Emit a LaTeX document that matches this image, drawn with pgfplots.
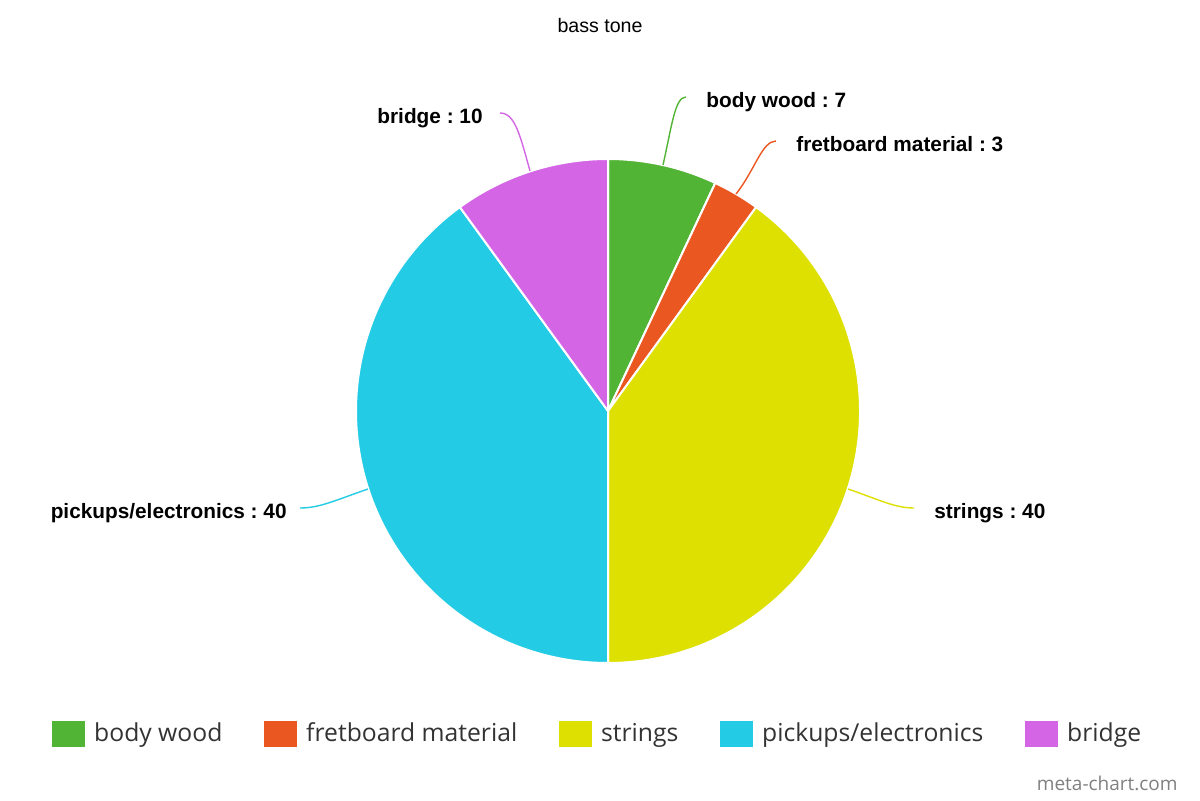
\documentclass[border=0pt]{standalone}
\usepackage{fontspec}
\setmainfont{Liberation Sans}
\newfontfamily\legendfont{Open Sans}
\usepackage{pgfplots}
\usepackage{pgfplotstable}
\pgfplotsset{compat=1.18}
\frenchspacing

\definecolor{c0}{HTML}{52B435}
\definecolor{c1}{HTML}{EB5720}
\definecolor{c2}{HTML}{DDE000}
\definecolor{c3}{HTML}{24CBE5}
\definecolor{c4}{HTML}{D466E6}

\pgfplotstableread[col sep=comma]{
name,value
body wood,7
fretboard material,3
strings,40
pickups/electronics,40
bridge,10
}\piedata

\begin{document}
\begin{tikzpicture}
% slice angles, clockwise from 12 o'clock
\pgfplotstablegetrowsof{\piedata}
\pgfmathtruncatemacro\nrows{\pgfplotsretval-1}
\gdef\pietot{0}
\foreach \i in {0,...,\nrows}{
  \pgfplotstablegetelem{\i}{value}\of\piedata
  \pgfmathsetmacro\pietmp{\pietot+\pgfplotsretval}
  \xdef\pietot{\pietmp}
}
\pgfmathsetmacro\piescale{360/\pietot}
\gdef\piecum{0}
\foreach \i in {0,...,\nrows}{
  \pgfplotstablegetelem{\i}{value}\of\piedata
  \pgfmathsetmacro\piea{90-\piescale*\piecum}
  \pgfmathsetmacro\pietmp{\piecum+\pgfplotsretval}
  \pgfmathsetmacro\pieb{90-\piescale*\pietmp}
  \expandafter\xdef\csname sa\i\endcsname{\piea}
  \expandafter\xdef\csname sb\i\endcsname{\pieb}
  \xdef\piecum{\pietmp}
}
\begin{axis}[
    hide axis,
    scale only axis,
    width=600pt, height=400pt,
    xmin=0, xmax=1200, ymin=0, ymax=800,
    clip=false,
    legend columns=5,
    legend style={at={(axis cs:52,66)}, anchor=west, draw=none, fill=none,
        font=\legendfont\fontsize{12.35}{15}\selectfont, text=black!80,
        nodes={inner xsep=0pt, inner ysep=1pt}, inner sep=0pt,
        column sep=4.5pt,
        /tikz/every even column/.append style={column sep=21pt}},
    legend image code/.code={\fill[#1] (0pt,-6.25pt) rectangle (16pt,6.25pt);}
]
\path (axis cs:0,0) rectangle (axis cs:1200,800);

\pgfplotsinvokeforeach{0,...,\nrows}{
  \fill[c#1, draw=white, line width=1pt, line join=round]
    (axis cs:608,389) -- ++(\csname sa#1\endcsname:126pt)
    arc[start angle=\csname sa#1\endcsname, end angle=\csname sb#1\endcsname, radius=126pt] -- cycle;
}

\addlegendimage{c0}
\addlegendimage{c1}
\addlegendimage{c2}
\addlegendimage{c3}
\addlegendimage{c4}
\legend{body wood, fretboard material, strings, pickups/electronics, bridge}

% connectors
\draw[c4, line width=0.7pt] (axis cs:530,629) .. controls (axis cs:520,665) and (axis cs:515,687) .. (axis cs:500,687);
\draw[c0, line width=0.7pt] (axis cs:663,635) .. controls (axis cs:672,675) and (axis cs:675,703) .. (axis cs:686,703);
\draw[c1, line width=0.7pt] (axis cs:736,606) .. controls (axis cs:755,630) and (axis cs:762,659) .. (axis cs:776,659);
\draw[c2, line width=0.7pt] (axis cs:848,311) .. controls (axis cs:880,300) and (axis cs:895,292) .. (axis cs:914,292);
\draw[c3, line width=0.7pt] (axis cs:368,311) .. controls (axis cs:336,300) and (axis cs:320,292) .. (axis cs:300,292);

% data labels
\begin{scope}[every node/.style={inner sep=0pt, font=\bfseries\fontsize{10.4}{12}\selectfont}]
\node[anchor=base west] at (axis cs:706,692) {body wood : 7};
\node[anchor=base west] at (axis cs:796,648) {fretboard material : 3};
\node[anchor=base east] at (axis cs:483,676) {bridge : 10};
\node[anchor=base west] at (axis cs:934,282) {strings : 40};
\node[anchor=base east] at (axis cs:287,282) {pickups/electronics : 40};
\end{scope}

\node[anchor=base, inner sep=0pt, font=\fontsize{9.8}{12}\selectfont] at (axis cs:600,767) {bass tone};
\node[anchor=base east, inner sep=0pt, text=black!50, font=\legendfont\fontsize{9.5}{11}\selectfont] at (axis cs:1178,10) {meta-chart.com};
\end{axis}
\end{tikzpicture}
\end{document}
